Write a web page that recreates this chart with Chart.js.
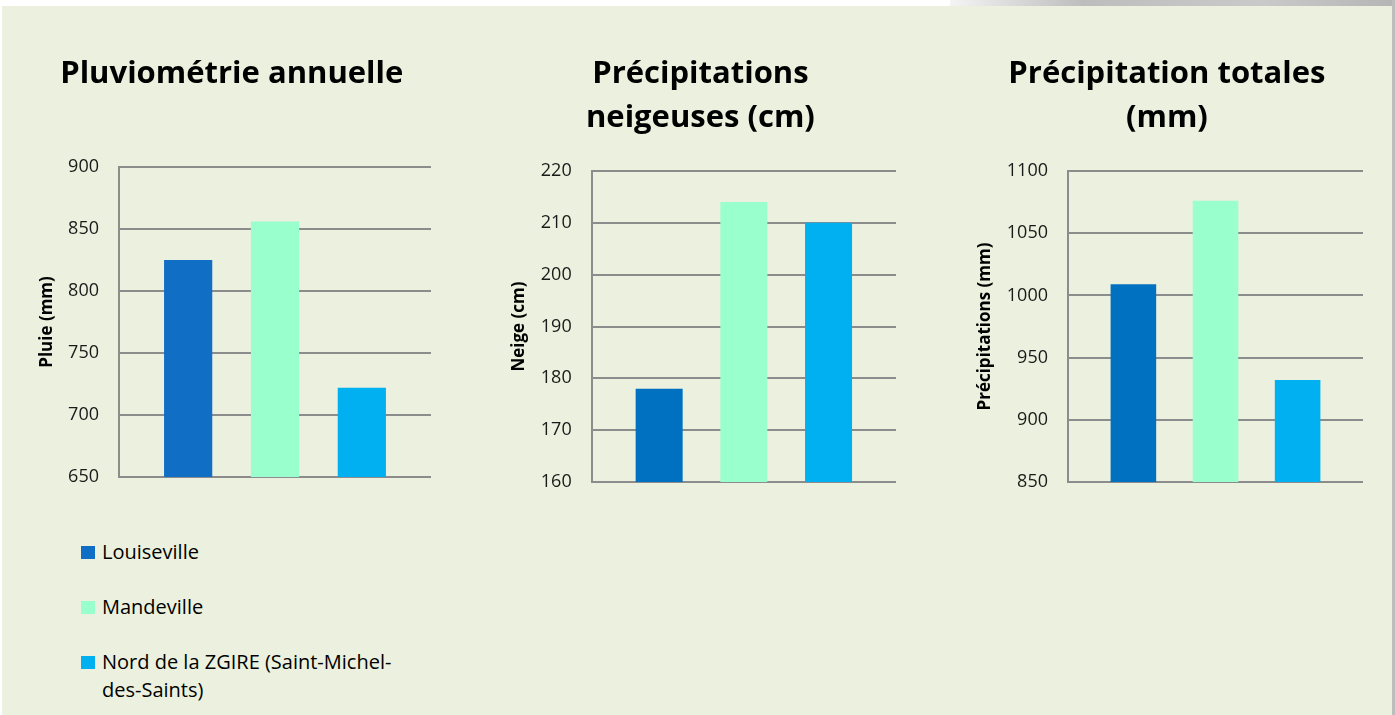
<!DOCTYPE html>
<html>
<head>
<meta charset="utf-8">
<script src="https://cdn.jsdelivr.net/npm/chart.js@4/dist/chart.umd.min.js"></script>
<style>
  body { margin: 0; background: #fff; width: 1395px; height: 715px; overflow: hidden; position: relative; font-family: "Open Sans", sans-serif; }
  #panel { position: absolute; left: 2px; top: 6px; width: 1390px; height: 709px; background: #EBF1DE; }
  #edgeTop { position: absolute; left: 950px; top: 0; width: 445px; height: 6px; background: linear-gradient(90deg, #f4f4f4, #bdbdbd 30%, #c9c9c9 70%, #b5b5b5); }
  #edgeRight { position: absolute; left: 1392px; top: 0; width: 3px; height: 715px; background: #bdbdbd; }
  canvas { position: absolute; top: 30px; }
  #legend { position: absolute; left: 81px; top: 538px; width: 320px; font-size: 20px; color: #000; }
  #legend div { position: relative; padding-left: 21px; line-height: 28px; margin-bottom: 27px; }
  #legend span { position: absolute; left: 0; top: 8px; width: 14px; height: 13px; }
</style>
</head>
<body>
<div id="panel"></div>
<div id="edgeTop"></div>
<div id="edgeRight"></div>
<canvas id="c1" width="430" height="470" style="left:20px"></canvas>
<canvas id="c2" width="420" height="470" style="left:490px"></canvas>
<canvas id="c3" width="420" height="470" style="left:960px"></canvas>
<div id="legend"></div>
<script>
const stations = ['Louiseville', 'Mandeville', 'Nord de la ZGIRE (Saint-Michel-des-Saints)'];
const pluie = [825, 856, 722];
const neige = [178, 214, 210];
const totales = [1009, 1076, 932];

const pluieTicks = [650, 700, 750, 800, 850, 900];
const neigeTicks = [160, 170, 180, 190, 200, 210, 220];
const totalesTicks = [850, 900, 950, 1000, 1050, 1100];

const colors1 = ['#106EC4', '#99FFCC', '#00B0F0'];
const colors2 = ['#0070C0', '#99FFCC', '#00B0F0'];

function makeChart(id, values, colors, title, axisTitle, ticks, lay) {
  return new Chart(document.getElementById(id), {
    type: 'bar',
    data: {
      labels: [''],
      datasets: stations.map((s, i) => ({
        label: s,
        data: [values[i]],
        backgroundColor: colors[i],
        categoryPercentage: 0.835,
        barPercentage: 0.555
      }))
    },
    options: {
      responsive: false,
      animation: false,
      layout: { padding: { left: lay.pl, right: lay.pr, top: 0, bottom: lay.pb } },
      plugins: {
        legend: { display: false },
        tooltip: { enabled: false },
        title: {
          display: true,
          text: title,
          color: '#000',
          font: { family: 'Open Sans', size: 31, weight: 'bold', lineHeight: '44px' },
          padding: { top: 22, bottom: lay.tb }
        }
      },
      scales: {
        x: { display: false },
        y: {
          min: ticks[0],
          max: ticks[ticks.length - 1],
          afterFit: s => { s.width = lay.yw; },
          ticks: {
            stepSize: ticks[1] - ticks[0],
            padding: 2,
            color: '#1a1a1a',
            font: { family: 'Open Sans', size: 18 },
            callback: v => String(v)
          },
          grid: { color: '#8c8c8c', lineWidth: 2, tickLength: 18, tickColor: 'rgba(0,0,0,0)' },
          border: { color: '#8c8c8c', width: 2 },
          title: {
            display: true,
            text: axisTitle,
            color: '#000',
            font: { family: 'Open Sans', size: 17, weight: 'bold' }
          }
        }
      }
    }
  });
}

makeChart('c1', pluie, colors1, 'Pluviométrie annuelle', 'Pluie (mm)', pluieTicks,
  { pl: 12.5, pr: 19, pb: 23, tb: 71, yw: 86.5 });
makeChart('c2', neige, colors2, ['Précipitations', 'neigeuses (cm)'], 'Neige (cm)', neigeTicks,
  { pl: 14.8, pr: 14, pb: 18, tb: 31, yw: 86.9 });
makeChart('c3', totales, colors2, ['Précipitation totales', '(mm)'], 'Précipitations (mm)', totalesTicks,
  { pl: 10.8, pr: 17, pb: 18, tb: 31, yw: 97.2 });

const legend = document.getElementById('legend');
stations.forEach((s, i) => {
  const row = document.createElement('div');
  const box = document.createElement('span');
  box.style.background = colors1[i];
  row.appendChild(box);
  row.appendChild(document.createTextNode(s));
  legend.appendChild(row);
});
</script>
</body>
</html>
